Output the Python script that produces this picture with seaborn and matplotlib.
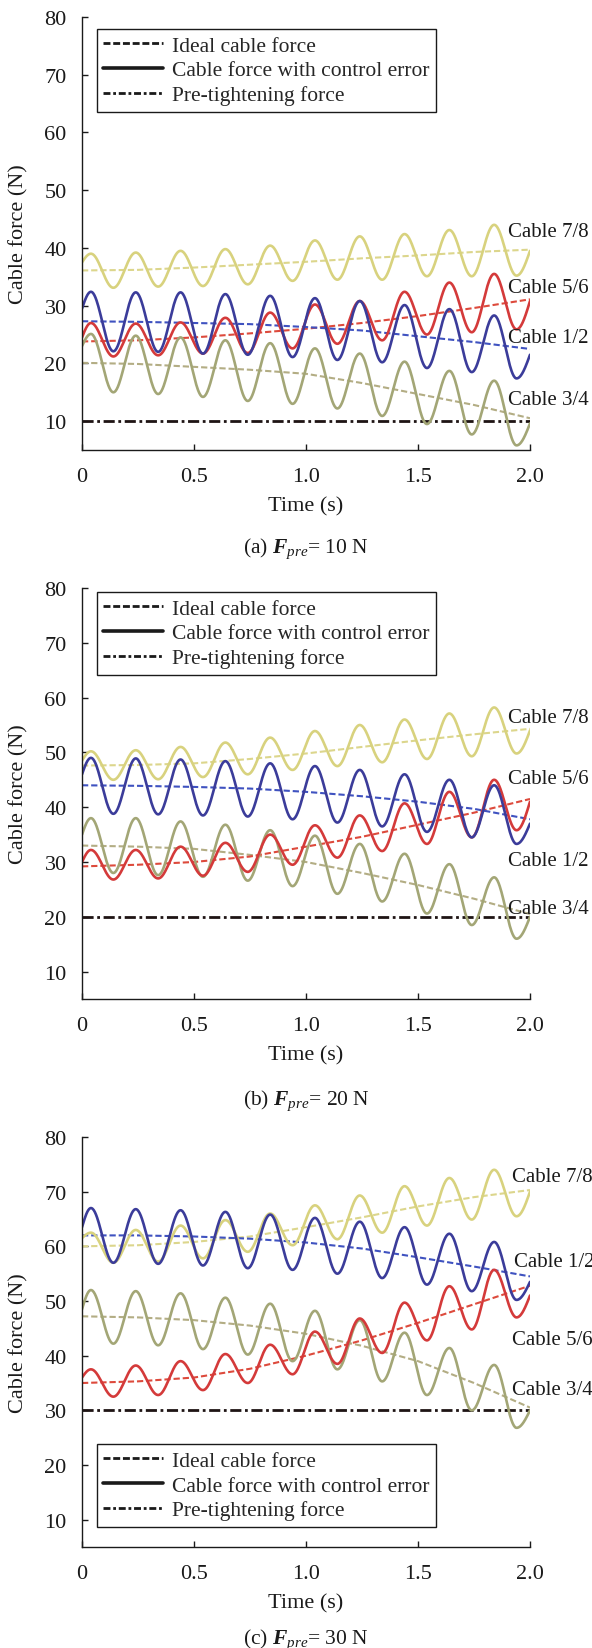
import numpy as np
import pandas as pd
import matplotlib
matplotlib.use("Agg")
import matplotlib.pyplot as plt
from matplotlib.lines import Line2D
import seaborn as sns

# ---------------- data ----------------
# time of start, alternating peaks / troughs of the oscillating curves, end
osc_t = [0.00, 0.04, 0.14, 0.24, 0.34, 0.44, 0.54, 0.64, 0.74, 0.84, 0.94,
         1.04, 1.14, 1.24, 1.34, 1.44, 1.54, 1.64, 1.74, 1.84, 1.94, 2.00]
# time grid of ideal (dashed) curves
ideal_t = [0.0, 0.25, 0.5, 0.75, 1.0, 1.25, 1.5, 1.75, 2.0]

cables = ["Cable 1/2", "Cable 3/4", "Cable 5/6", "Cable 7/8"]
pre_force = [10, 20, 30]
captions = ["(a)", "(b)", "(c)"]

# Panel (a)  F_pre = 10 N
a_err_12 = [29.5, 32.4, 22.1, 32.3, 22.0, 32.3, 21.7, 32.0, 21.5, 31.7, 21.1,
            31.3, 20.6, 30.8, 20.2, 30.1, 19.2, 29.4, 18.5, 28.3, 17.4, 21.5]
a_err_34 = [23.0, 25.1, 15.0, 24.8, 14.7, 24.5, 14.2, 24.0, 13.5, 23.5, 13.0,
            22.6, 12.2, 21.7, 10.9, 20.3, 9.5, 18.7, 7.7, 17.0, 5.8, 9.6]
a_err_56 = [24.5, 27.0, 21.2, 26.9, 21.4, 27.1, 21.7, 27.9, 21.8, 28.8, 22.6,
            30.2, 23.4, 30.8, 24.0, 32.4, 25.0, 34.0, 25.4, 35.5, 25.9, 30.8]
a_err_78 = [37.5, 39.0, 33.1, 39.2, 33.3, 39.5, 33.4, 39.8, 33.7, 40.4, 34.3,
            41.3, 34.5, 42.0, 34.5, 42.4, 35.1, 43.1, 35.1, 44.0, 35.2, 39.5]
a_ideal_12 = [27.3, 27.2, 27.0, 26.8, 26.3, 25.7, 24.7, 23.7, 22.5]
a_ideal_34 = [20.1, 19.9, 19.4, 18.9, 18.2, 16.6, 14.7, 12.8, 10.5]
a_ideal_56 = [23.8, 24.0, 24.5, 25.2, 26.0, 27.0, 28.2, 29.6, 31.1]
a_ideal_78 = [36.1, 36.2, 36.6, 37.1, 37.6, 38.2, 38.7, 39.3, 39.7]

# Panel (b)  F_pre = 20 N
b_err_12 = [46.0, 49.0, 38.8, 48.9, 38.7, 48.7, 38.5, 48.4, 38.3, 48.0, 37.8,
            47.5, 37.2, 46.8, 36.5, 46.0, 35.5, 45.0, 34.5, 44.0, 33.3, 37.0]
b_err_34 = [35.0, 38.0, 28.0, 38.0, 27.6, 37.4, 27.3, 36.8, 26.6, 35.8, 25.6,
            34.8, 24.2, 33.3, 22.8, 31.5, 20.6, 29.6, 18.5, 27.2, 16.0, 20.0]
b_err_56 = [30.0, 32.2, 26.8, 32.2, 27.0, 32.8, 27.5, 33.5, 28.2, 35.0, 29.5,
            36.7, 30.8, 38.5, 32.0, 40.7, 33.3, 42.8, 34.5, 45.0, 35.8, 41.0]
b_err_78 = [48.5, 50.2, 45.0, 50.4, 45.1, 51.0, 45.5, 51.8, 46.0, 52.7, 46.8,
            53.9, 47.5, 55.0, 48.2, 56.0, 48.8, 57.1, 49.3, 58.2, 49.8, 54.0]
b_ideal_12 = [44.0, 43.9, 43.7, 43.4, 42.8, 42.0, 41.0, 39.7, 37.8]
b_ideal_34 = [33.0, 32.8, 32.4, 31.3, 30.0, 28.0, 25.8, 23.3, 20.5]
b_ideal_56 = [29.2, 29.5, 30.0, 31.0, 32.8, 34.6, 36.8, 39.0, 41.5]
b_ideal_78 = [47.6, 47.7, 48.0, 48.8, 49.8, 51.0, 52.2, 53.3, 54.3]

# Panel (c)  F_pre = 30 N
c_err_12 = [63.5, 67.0, 57.0, 66.8, 56.8, 66.6, 56.5, 66.3, 56.0, 65.8, 55.7,
            65.2, 55.0, 64.5, 54.2, 63.5, 53.0, 62.3, 51.8, 60.8, 50.2, 53.5]
c_err_34 = [48.5, 52.0, 42.2, 51.8, 41.9, 51.4, 41.2, 50.6, 40.2, 49.5, 39.0,
            48.2, 37.5, 46.5, 35.3, 44.2, 32.8, 41.4, 30.0, 38.3, 26.8, 30.0]
c_err_56 = [36.0, 37.5, 32.5, 38.2, 32.8, 39.0, 33.7, 40.3, 35.0, 42.0, 36.6,
            44.4, 38.5, 46.8, 40.5, 49.7, 42.8, 52.7, 44.8, 55.7, 47.0, 51.0]
c_err_78 = [61.5, 62.5, 57.0, 63.0, 57.2, 63.8, 57.8, 64.8, 59.0, 66.0, 60.2,
            67.5, 61.3, 69.3, 62.5, 71.0, 63.8, 72.5, 64.9, 74.0, 65.5, 70.0]
c_ideal_12 = [62.0, 62.0, 61.8, 61.4, 60.7, 59.6, 58.0, 56.3, 54.5]
c_ideal_34 = [47.2, 47.0, 46.5, 45.5, 44.0, 41.8, 39.0, 35.0, 30.5]
c_ideal_56 = [35.0, 35.3, 36.0, 37.6, 40.0, 42.8, 46.0, 49.4, 52.8]
c_ideal_78 = [60.0, 60.2, 60.8, 61.8, 63.5, 65.3, 67.3, 69.0, 70.3]

# label positions (time, force) of the cable names
a_lab_t = [1.90, 1.90, 1.90, 1.90]
a_lab_v = [24.4, 13.8, 33.2, 42.8]
b_lab_t = [1.90, 1.90, 1.90, 1.90]
b_lab_v = [30.3, 21.6, 45.2, 56.3]
c_lab_t = [1.93, 1.92, 1.92, 1.92]
c_lab_v = [57.3, 33.9, 43.0, 72.7]

# ---------------- style ----------------
sns.set_theme(style="ticks")
plt.rcParams["font.family"] = ["Liberation Serif", "DejaVu Serif"]
plt.rcParams["font.size"] = 15
plt.rcParams["mathtext.fontset"] = "custom"
plt.rcParams["mathtext.rm"] = "Liberation Serif"
plt.rcParams["mathtext.it"] = "Liberation Serif:italic"
plt.rcParams["mathtext.bf"] = "Liberation Serif:bold:italic"

col_err = {"Cable 1/2": "#3b3c9a", "Cable 3/4": "#a3a676",
           "Cable 5/6": "#d43a3a", "Cable 7/8": "#d8d27e"}
col_ideal = {"Cable 1/2": "#3f52c0", "Cable 3/4": "#b3ad84",
             "Cable 5/6": "#dd4a3c", "Cable 7/8": "#dcd68c"}
draw_order = ["Cable 7/8", "Cable 3/4", "Cable 5/6", "Cable 1/2"]

TICK_FS = 16
LABEL_FS = 16
LEG_FS = 15.5
CAB_FS = 15
CAP_FS = 15.5


def smooth_osc(ts, vs, n=40):
    """Smooth rendering through the read start / extrema / end values."""
    out_t, out_v = [], []
    last = len(ts) - 2
    for i in range(len(ts) - 1):
        s = np.linspace(0, 1, n, endpoint=False)
        if i == 0:
            w = np.sin(np.pi / 2 * s)
        elif i == last:
            w = 1 - np.cos(np.pi / 2 * s)
        else:
            w = (1 - np.cos(np.pi * s)) / 2
        out_t.append(ts[i] + (ts[i + 1] - ts[i]) * s)
        out_v.append(vs[i] + (vs[i + 1] - vs[i]) * w)
    out_t.append([ts[-1]])
    out_v.append([vs[-1]])
    return np.concatenate(out_t), np.concatenate(out_v)


panels = [
    dict(err=[a_err_12, a_err_34, a_err_56, a_err_78],
         ideal=[a_ideal_12, a_ideal_34, a_ideal_56, a_ideal_78],
         lab_t=a_lab_t, lab_v=a_lab_v, cap=98,
         rect=(82, 18, 530, 451), leg=("upper left", (0.0335, 0.972))),
    dict(err=[b_err_12, b_err_34, b_err_56, b_err_78],
         ideal=[b_ideal_12, b_ideal_34, b_ideal_56, b_ideal_78],
         lab_t=b_lab_t, lab_v=b_lab_v, cap=101,
         rect=(82, 589, 530, 1000), leg=("upper left", (0.0335, 0.99))),
    dict(err=[c_err_12, c_err_34, c_err_56, c_err_78],
         ideal=[c_ideal_12, c_ideal_34, c_ideal_56, c_ideal_78],
         lab_t=c_lab_t, lab_v=c_lab_v, cap=92,
         rect=(82, 1138, 530, 1548), leg=("lower left", (0.0335, 0.049))),
]

W, H = 592, 1649
fig = plt.figure(figsize=(W / 100, H / 100), dpi=100)
fig.patch.set_facecolor("white")

ideal_dash = (0, (3.0, 1.4))
pre_dash = (0, (4.0, 1.3, 1.0, 1.3))

for k, p in enumerate(panels):
    x0, y0, x1, y1 = p["rect"]
    ax = fig.add_axes([x0 / W, 1 - y1 / H, (x1 - x0) / W, (y1 - y0) / H])
    ax.set_facecolor("white")
    hpx = y1 - y0

    idx = {c: i for i, c in enumerate(cables)}
    # ideal (dashed)
    for c in draw_order:
        df = pd.DataFrame({"t": ideal_t, "v": p["ideal"][idx[c]]})
        sns.lineplot(data=df, x="t", y="v", ax=ax, color=col_ideal[c],
                     linewidth=1.5, linestyle=ideal_dash, estimator=None,
                     sort=False, legend=False)
    # pre-tightening force
    dfp = pd.DataFrame({"t": [0.0, 2.0], "v": [pre_force[k], pre_force[k]]})
    sns.lineplot(data=dfp, x="t", y="v", ax=ax, color="#1e1414",
                 linewidth=2.0, linestyle=pre_dash, estimator=None,
                 sort=False, legend=False)
    # with control error (solid)
    for c in draw_order:
        tt, vv = smooth_osc(osc_t, p["err"][idx[c]])
        df = pd.DataFrame({"t": tt, "v": vv})
        sns.lineplot(data=df, x="t", y="v", ax=ax, color=col_err[c],
                     linewidth=1.9, estimator=None, sort=False, legend=False)

    # cable names
    for i, c in enumerate(cables):
        ax.text(p["lab_t"][i], p["lab_v"][i], c, ha="left", va="center",
                fontsize=CAB_FS, color="#1a1a1a", clip_on=False, zorder=5)

    ax.set_xlim(0, 2.0)
    ax.set_ylim(5, 80)
    ax.set_xticks([0, 0.5, 1.0, 1.5, 2.0])
    ax.set_xticklabels(["0", "0.5", "1.0", "1.5", "2.0"])
    ax.set_yticks([10, 20, 30, 40, 50, 60, 70, 80])
    ax.set_yticklabels([str(v) for v in [10, 20, 30, 40, 50, 60, 70, 80]])
    ax.tick_params(axis="both", direction="in", length=4, width=1,
                   labelsize=TICK_FS, colors="#1a1a1a")
    ax.tick_params(axis="y", pad=11)
    ax.tick_params(axis="x", pad=12)
    sns.despine(ax=ax)
    for s in ["left", "bottom"]:
        ax.spines[s].set_linewidth(1.0)
        ax.spines[s].set_color("#1a1a1a")

    ax.set_xlabel("Time (s)", fontsize=LABEL_FS, color="#1a1a1a")
    ax.xaxis.label.set_va("center")
    ax.xaxis.set_label_coords(0.5, -56 / hpx)
    ax.set_ylabel("Cable force (N)", fontsize=LABEL_FS, color="#1a1a1a")
    ax.yaxis.label.set_va("center")
    ax.yaxis.set_label_coords((19 - 82) / 448, 0.5)

    ax.text(0.5, -p["cap"] / hpx,
            captions[k] + r" $\mathbf{F}_{\mathit{pre}}$" + f"= {pre_force[k]} N",
            transform=ax.transAxes, ha="center", va="center", fontsize=CAP_FS,
            color="#1a1a1a")

    handles = [
        Line2D([], [], color="#1a1a1a", linewidth=2.0, linestyle=(0, (2.5, 1.0))),
        Line2D([], [], color="#1a1a1a", linewidth=2.6, linestyle="-"),
        Line2D([], [], color="#1a1a1a", linewidth=2.0, linestyle=(0, (2.5, 1.0, 1.0, 1.0))),
    ]
    labels = ["Ideal cable force", "Cable force with control error",
              "Pre-tightening force"]
    leg = ax.legend(handles, labels, loc=p["leg"][0], bbox_to_anchor=p["leg"][1],
                    borderaxespad=0, fontsize=LEG_FS, frameon=True, fancybox=False,
                    framealpha=1, edgecolor="#1a1a1a", handlelength=2.75,
                    handletextpad=0.42, borderpad=0.3, labelspacing=0.22)
    leg.get_frame().set_linewidth(1.0)
    leg.set_zorder(10)

fig.savefig("out.png", dpi=100, facecolor="white")
